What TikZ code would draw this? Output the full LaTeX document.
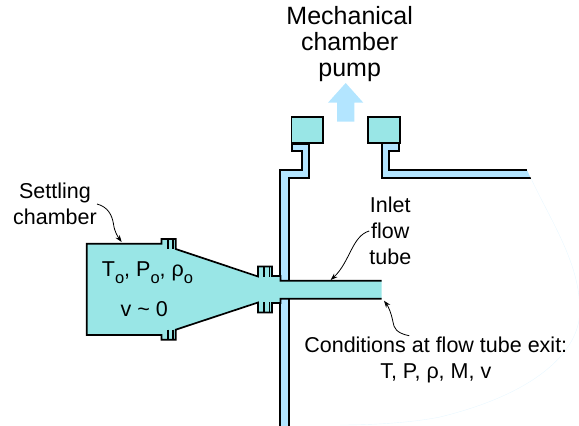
\documentclass[tikz,border=0pt]{standalone}
\usepackage{fontspec}
\setmainfont{Liberation Sans}
\usetikzlibrary{arrows.meta, calc}
\newcommand{\subo}{\raisebox{-0.36em}{\fontsize{16.5}{16.5}\selectfont o}}
\tikzset{
    wall_blue/.style={draw=black, line width=1.7pt, fill=blue_wall, line join=miter},
    block_teal/.style={draw=black, line width=1.7pt, fill=teal_gas, line join=miter},
    label_big/.style={inner sep=0pt, align=center, font=\fontsize{25}{26}\selectfont},
    label_small/.style={inner sep=0pt, align=center, font=\fontsize{21.5}{26}\selectfont},
    arrow/.style={-{Stealth[length=7pt, width=5pt]}, line width=0.8pt}
}
\definecolor{blue_wall}{HTML}{B3E5FF}
\definecolor{teal_gas}{HTML}{99E6E6}
\begin{document}
\begin{tikzpicture}[x=1pt, y=-1pt]
    \useasboundingbox (0,0) rectangle (579,426);
    \fill [blue_wall] (345.7,83) -- (363.3,102.7) -- (354.3,102.7) -- (354.3,121.7) -- (337,121.7) -- (337,102.7) -- (328,102.7) -- cycle;

    \begin{scope}
    \clip (0,0) rectangle (579,426);
    \draw [blue_wall!30, line width=0.4pt] (530.7,177.7) .. controls (550,220) and (585,270) .. (579,320) .. controls (573,357) and (530,395) .. (440,417) .. controls (410,423) and (370,425) .. (340,425);
    \end{scope}

    \draw [wall_blue] (280.3,426) -- (280.3,170) -- (301.7,170) -- (301.7,150.7) -- (291.7,150.7) -- (291.7,144.5) -- (309.3,144.5) -- (309.3,177.7) -- (288.7,177.7) -- (288.7,426);
    \draw [wall_blue] (530.7,177.7) -- (381.7,177.7) -- (381.7,143) -- (399.3,143) -- (399.3,150.7) -- (389.3,150.7) -- (389.3,170) -- (527.3,170);
    \fill [white] (527.3,170) -- (530.7,177.7) -- (533,177.7) -- (530,169) -- cycle;

    \node (port_left) [block_teal, minimum width=31.7pt, minimum height=25.4pt, inner sep=0pt] at (307.2,130) {};
    \node (port_right) [block_teal, minimum width=31.7pt, minimum height=25.4pt, inner sep=0pt] at (383.9,130) {};

    \draw [block_teal] (381.7,280.7) -- (280.5,280.7) -- (280.5,276) -- (272,276) -- (272,266.5) -- (258,266.5) -- (258,276.5) -- (175.7,249) -- (175.7,239) -- (161.5,239) -- (161.5,243.7) -- (86.7,243.7)
        -- (86.7,335) -- (161.5,335) -- (161.5,339.7) -- (175.7,339.7) -- (175.7,329.7) -- (258,302.5) -- (258,312.5) -- (272,312.5) -- (272,303) -- (280.5,303) -- (280.5,298.7) -- (381.7,298.7);
    \foreach \x in {167.7,173.3} {
        \draw [line width=1.7pt] (\x,239) -- (\x,249);
        \draw [line width=1.7pt] (\x,329.7) -- (\x,339.7);
    }
    \foreach \x in {264.3,269.5} {
        \draw [line width=1.7pt] (\x,266.5) -- (\x,277);
        \draw [line width=1.7pt] (\x,302) -- (\x,312.5);
    }

    \node (pump) [label_big] at (349.7,44.5) {Mechanical\\chamber\\pump};
    \node (settling) [label_small] at (55,204) {Settling\\chamber};
    \node (inlet) [label_small] at (390.3,231) {Inlet\\flow\\tube};
    \node (gas_state) [label_small, anchor=base] at (147.5,276) {T\subo, P\subo, ρ\subo};
    \node (gas_speed) [label_small, anchor=base] at (144.2,316.7) {v \char`\~{} 0};
    \node (conditions) [label_small] at (435.8,360) {Conditions at flow tube exit:\\T, P, ρ, M, v};

    \coordinate (chamber_top) at (121.7,242);
    \coordinate (tube_top) at (330.7,280);
    \coordinate (tube_exit) at (384,300.7);

    \draw [arrow] (settling.east) .. controls (108,207) and (112,215) .. (113.5,224) .. controls (114.5,232) and (118,237) .. (chamber_top);
    \draw [arrow] (inlet.west) .. controls (352,236) and (350,262) .. (tube_top);
    \draw [arrow] ($(conditions.north)+(-26.5,-1)$) .. controls (396,333) and (394,328) .. (393,322) .. controls (391,312) and (388,306) .. (tube_exit);
\end{tikzpicture}
\end{document}
